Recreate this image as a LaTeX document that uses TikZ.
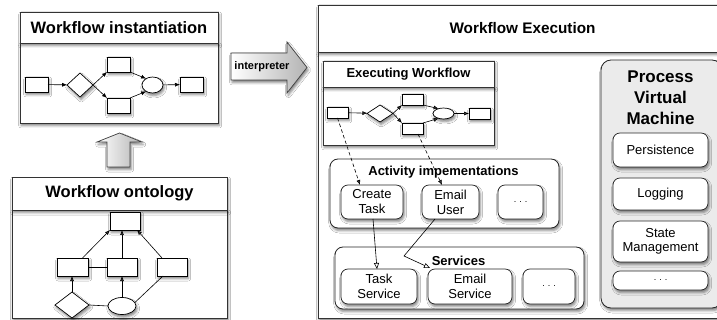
\documentclass[tikz,border=0pt]{standalone}
\usepackage{fontspec}
\setmainfont{Liberation Sans}
\usetikzlibrary{shadows.blur, arrows.meta, shapes.geometric}

\newcommand{\fsz}[2]{\fontsize{#1}{#2}\selectfont}

\begin{document}
\begin{tikzpicture}[x=1pt, y=-1pt,
  every node/.style={inner sep=0pt, outer sep=0pt},
  shad/.style={blur shadow={shadow xshift=1.2pt, shadow yshift=-2.5pt,
      shadow blur radius=2.5pt, shadow opacity=50}},
  frame/.style={draw=black!80, line width=0.8pt, fill=white, shad},
  hdr/.style={frame, font=\bfseries\fsz{16.5}{18}},
  elem/.style={rectangle, draw=black, line width=0.7pt, fill=white, shad},
  group/.style={rectangle, rounded corners=8pt, draw=black!85, line width=0.8pt, fill=white, shad},
  sbox/.style={rectangle, rounded corners=7pt, draw=black!85, line width=0.7pt, fill=white,
      shad, align=center, font=\fsz{13}{15}},
  ttl/.style={font=\bfseries\fsz{13}{15}, align=center},
  flow/.style={line width=0.6pt, -{Latex[length=5pt, width=4pt]}},
  plain/.style={line width=0.6pt},
  dflow/.style={line width=0.6pt, dash pattern=on 3.5pt off 2.5pt, -{Latex[length=5pt, width=4pt]}},
  oflow/.style={line width=0.6pt, -{Triangle[open, length=6pt, width=5pt]}},
  arrowfill/.style={draw=black!75, line width=0.7pt, left color=white, right color=black!30, shad},
]
\clip (0,0) rectangle (717,320);
\fill[white] (0,0) rectangle (717,320);

% ---------- Workflow instantiation ----------
\node[frame, minimum width=198, minimum height=80] (instbody) at (119,83) {};
\node[hdr, minimum width=198, minimum height=31] (insthead) at (119,27.5) {Workflow instantiation};

\node[elem, minimum width=23, minimum height=15] (ia) at (36.5,84.5) {};
\node[elem, diamond, minimum width=26, minimum height=24] (ib) at (80,85) {};
\node[elem, minimum width=23, minimum height=15] (ic) at (118.5,64.5) {};
\node[elem, minimum width=23, minimum height=15] (id) at (118.5,105.5) {};
\node[elem, ellipse, minimum width=21, minimum height=16] (ie) at (152.5,85) {};
\node[elem, minimum width=23, minimum height=15] (ig) at (191.5,84.5) {};

\draw[flow] (ia) -- (ib);
\draw[flow] (ib.east) -- (ic.south west);
\draw[flow] (ib.east) -- (id.north west);
\draw[flow] (ic.south east) -- (ie.135);
\draw[flow] (id.north east) -- (ie.225);
\draw[flow] (ie) -- (ig);

% ---------- up arrow ----------
\path[arrowfill] (107,167) -- (107,142) -- (97,142) -- (119.5,133) -- (142,142)
  -- (130,142) -- (130,167) -- cycle;

% ---------- Workflow ontology ----------
\node[frame, minimum width=215, minimum height=108] (ontbody) at (119.5,264) {};
\node[hdr, minimum width=215, minimum height=33] (onthead) at (119.5,193.5) {Workflow ontology};

\node[elem, minimum width=30, minimum height=18] (ot) at (125,221) {};
\node[elem, minimum width=31, minimum height=18] (oa) at (72.5,267) {};
\node[elem, minimum width=30, minimum height=18] (ob) at (122,267) {};
\node[elem, minimum width=30, minimum height=18] (oc) at (172,267) {};
\node[elem, diamond, minimum width=34, minimum height=26] (od) at (72,305) {};
\node[elem, ellipse, minimum width=28, minimum height=17] (oe) at (122,306) {};

\draw[flow] ([xshift=10pt]oa.north) -- (ot.south west);
\draw[flow] (ob.north) -- (ot.south -| ob.north);
\draw[flow] ([xshift=-10pt]oc.north) -- ([xshift=-3pt]ot.south east);
\draw[plain] (oa.east) -- (ob.west);
\draw[flow] (od.north) -- (oa.south -| od.north);
\draw[plain] (od.east) -- (oe.west);
\draw[flow] (oe.north) -- (ob.south);
\draw[plain] (oe.15) -- ([xshift=-9pt]oc.south);

% ---------- interpreter arrow ----------
\path[arrowfill] (231,53) -- (287,53) -- (287,42) -- (307,67.5) -- (287,93)
  -- (287,80) -- (231,80) -- cycle;
\node[font=\bfseries\fsz{11}{12}] (interp) at (262,67) {interpreter};

% ---------- Workflow Execution ----------
\node[frame, minimum width=409, minimum height=266] (webody) at (522.5,185) {};
\node[hdr, font=\bfseries\fsz{15.3}{17}, minimum width=409, minimum height=47] (wehead)
  at (522.5,28.5) {Workflow Execution};

% Executing workflow
\node[frame, minimum width=171, minimum height=58] (exbody) at (408.5,116) {};
\node[frame, font=\bfseries\fsz{13}{15}, minimum width=171, minimum height=26] (exhead)
  at (408.5,74) {Executing Workflow};

\node[elem, minimum width=21, minimum height=11] (ea) at (337.5,112.5) {};
\node[elem, diamond, minimum width=26, minimum height=17] (eb) at (380,113.5) {};
\node[elem, minimum width=21, minimum height=11] (ec) at (412.5,99.5) {};
\node[elem, minimum width=21, minimum height=11] (ed) at (412.5,128.5) {};
\node[elem, ellipse, minimum width=21, minimum height=11] (ee) at (443.5,113.5) {};
\node[elem, minimum width=21, minimum height=11] (eg) at (479.5,113.5) {};

\draw[flow] (ea) -- (eb);
\draw[flow] (eb.east) -- (ec.south west);
\draw[flow] (eb.east) -- (ed.north west);
\draw[flow] (ec.south east) -- (ee.135);
\draw[flow] (ed.north east) -- (ee.225);
\draw[flow] (ee) -- (eg);

% Activity implementations
\node[group, minimum width=229, minimum height=69] (actbox) at (444.5,193.5) {};
\node[ttl] (acttitle) at (443.5,172) {Activity impementations};
\node[sbox, minimum width=62, minimum height=34] (ct) at (372,202) {Create\\Task};
\node[sbox, minimum width=57, minimum height=34] (eu) at (450.5,202) {Email\\User};
\node[sbox, minimum width=45, minimum height=34, font=\fsz{9}{11}] (adots) at (520.5,202) {.\hspace{3pt}.\hspace{3pt}.};

% Services
\node[group, minimum width=249, minimum height=62] (srvbox) at (459.5,278) {};
\node[ttl] (srvtitle) at (458.5,261) {Services};
\node[sbox, minimum width=76, minimum height=35] (ts) at (379,286.5) {Task\\Service};
\node[sbox, minimum width=84, minimum height=35] (es) at (470,286.5) {Email\\Service};
\node[sbox, minimum width=52, minimum height=35, font=\fsz{9}{11}] (sdots) at (549,286.5) {.\hspace{3pt}.\hspace{3pt}.};

% Process Virtual Machine
\node[group, rounded corners=10pt, fill=black!8, minimum width=121, minimum height=248] (pvm) at (661.5,184) {};
\node[font=\bfseries\fsz{17}{21}, align=center] (pvmtitle) at (660.5,97.5) {Process\\Virtual\\Machine};
\node[sbox, minimum width=95, minimum height=34] (pers) at (660.5,150) {Persistence};
\node[sbox, minimum width=95, minimum height=32] (logg) at (660.5,194) {Logging};
\node[sbox, minimum width=95, minimum height=41, font=\fsz{13}{14}] (stm) at (660.5,241.5) {State\\Management};
\node[sbox, minimum width=95, minimum height=19, font=\fsz{9}{11}] (pdots) at (660.5,280.5) {.\hspace{3pt}.\hspace{3pt}.};

% connectors between execution layers
\draw[dflow] (ea.south) -- ([xshift=-12pt]ct.north);
\draw[dflow] ([xshift=5.5pt]ed.south) -- ([xshift=-8.5pt]eu.north);
\draw[oflow] ([xshift=1pt]ct.south) -- ([xshift=-2pt]ts.north);
\coordinate (bend) at (404,256);
\draw[oflow] ([xshift=-15.5pt]eu.south) -- (bend) -- ([xshift=2pt, yshift=1pt]es.north west);
\end{tikzpicture}
\end{document}
